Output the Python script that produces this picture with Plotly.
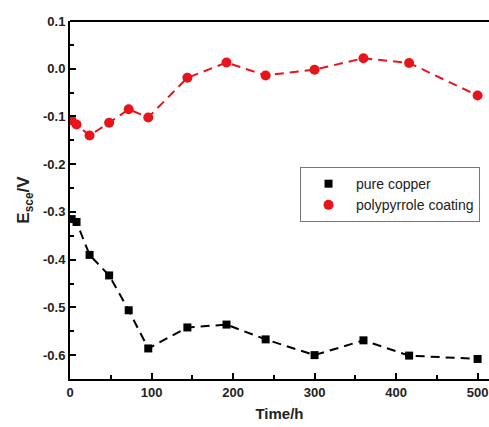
import plotly.graph_objects as go

time_h = [2, 8, 24, 48, 72, 96, 144, 192, 240, 300, 360, 416, 500]
pure_copper = [-0.315, -0.321, -0.390, -0.433, -0.506, -0.586, -0.542, -0.536,
               -0.567, -0.600, -0.569, -0.601, -0.608]
polypyrrole = [-0.108, -0.117, -0.140, -0.113, -0.085, -0.102, -0.019, 0.013,
               -0.014, -0.002, 0.022, 0.012, -0.056]
series_names = ["pure copper", "polypyrrole coating"]

fig = go.Figure()
fig.add_trace(go.Scatter(x=time_h, y=pure_copper, mode="lines", showlegend=False,
                         line=dict(color="black", width=2, dash="9px,6px")))
fig.add_trace(go.Scatter(x=time_h, y=polypyrrole, mode="lines", showlegend=False,
                         line=dict(color="#e8141b", width=2, dash="9px,6px")))
fig.add_trace(go.Scatter(x=time_h, y=pure_copper, mode="markers",
                         name=series_names[0],
                         marker=dict(symbol="square", color="black", size=8)))
fig.add_trace(go.Scatter(x=time_h, y=polypyrrole, mode="markers",
                         name=series_names[1],
                         marker=dict(symbol="circle", color="#e8141b", size=10)))

tickfont = dict(family="Liberation Sans, Arial", size=13, color="#222", weight="bold")
fig.update_layout(
    width=489, height=427,
    margin=dict(l=70, r=0, t=21, b=48),
    plot_bgcolor="white", paper_bgcolor="white",
    font=dict(family="Liberation Sans, Arial", color="#222"),
    xaxis=dict(range=[0, 514], tickvals=[0, 100, 200, 300, 400, 500],
               showline=True, linecolor="black", linewidth=2,
               ticks="inside", ticklen=6, tickwidth=1.5, tickcolor="black",
               minor=dict(tickvals=[50, 150, 250, 350, 450], ticks="inside", ticklen=4,
                          tickwidth=1.5, tickcolor="black"),
               showgrid=False, zeroline=False, tickfont=tickfont,
               title=dict(text="<b>Time/h</b>", font=dict(size=15), standoff=10)),
    yaxis=dict(range=[-0.65, 0.1], tickvals=[0.1, 0.0, -0.1, -0.2, -0.3, -0.4, -0.5, -0.6],
               ticktext=["0.1", "0.0", "-0.1", "-0.2", "-0.3", "-0.4", "-0.5", "-0.6"],
               showline=True, linecolor="black", linewidth=2,
               ticks="inside", ticklen=6, tickwidth=1.5, tickcolor="black",
               minor=dict(tickvals=[0.05, -0.05, -0.15, -0.25, -0.35, -0.45, -0.55],
                          ticks="inside", ticklen=4, tickwidth=1.5, tickcolor="black"),
               showgrid=False, zeroline=False, tickfont=tickfont,
               title=dict(text="<b>E<sub>sce</sub>/V</b>", font=dict(size=17), standoff=9)),
    legend=dict(x=0.549, y=0.592, xanchor="left", yanchor="top",
                bgcolor="white", bordercolor="#777", borderwidth=1,
                font=dict(size=14, color="#222"), itemwidth=45, tracegroupgap=0),
    shapes=[dict(type="line", xref="paper", yref="paper", x0=0, x1=1, y0=1, y1=1,
                 line=dict(color="black", width=2))],
)

fig.write_html("out.html")
